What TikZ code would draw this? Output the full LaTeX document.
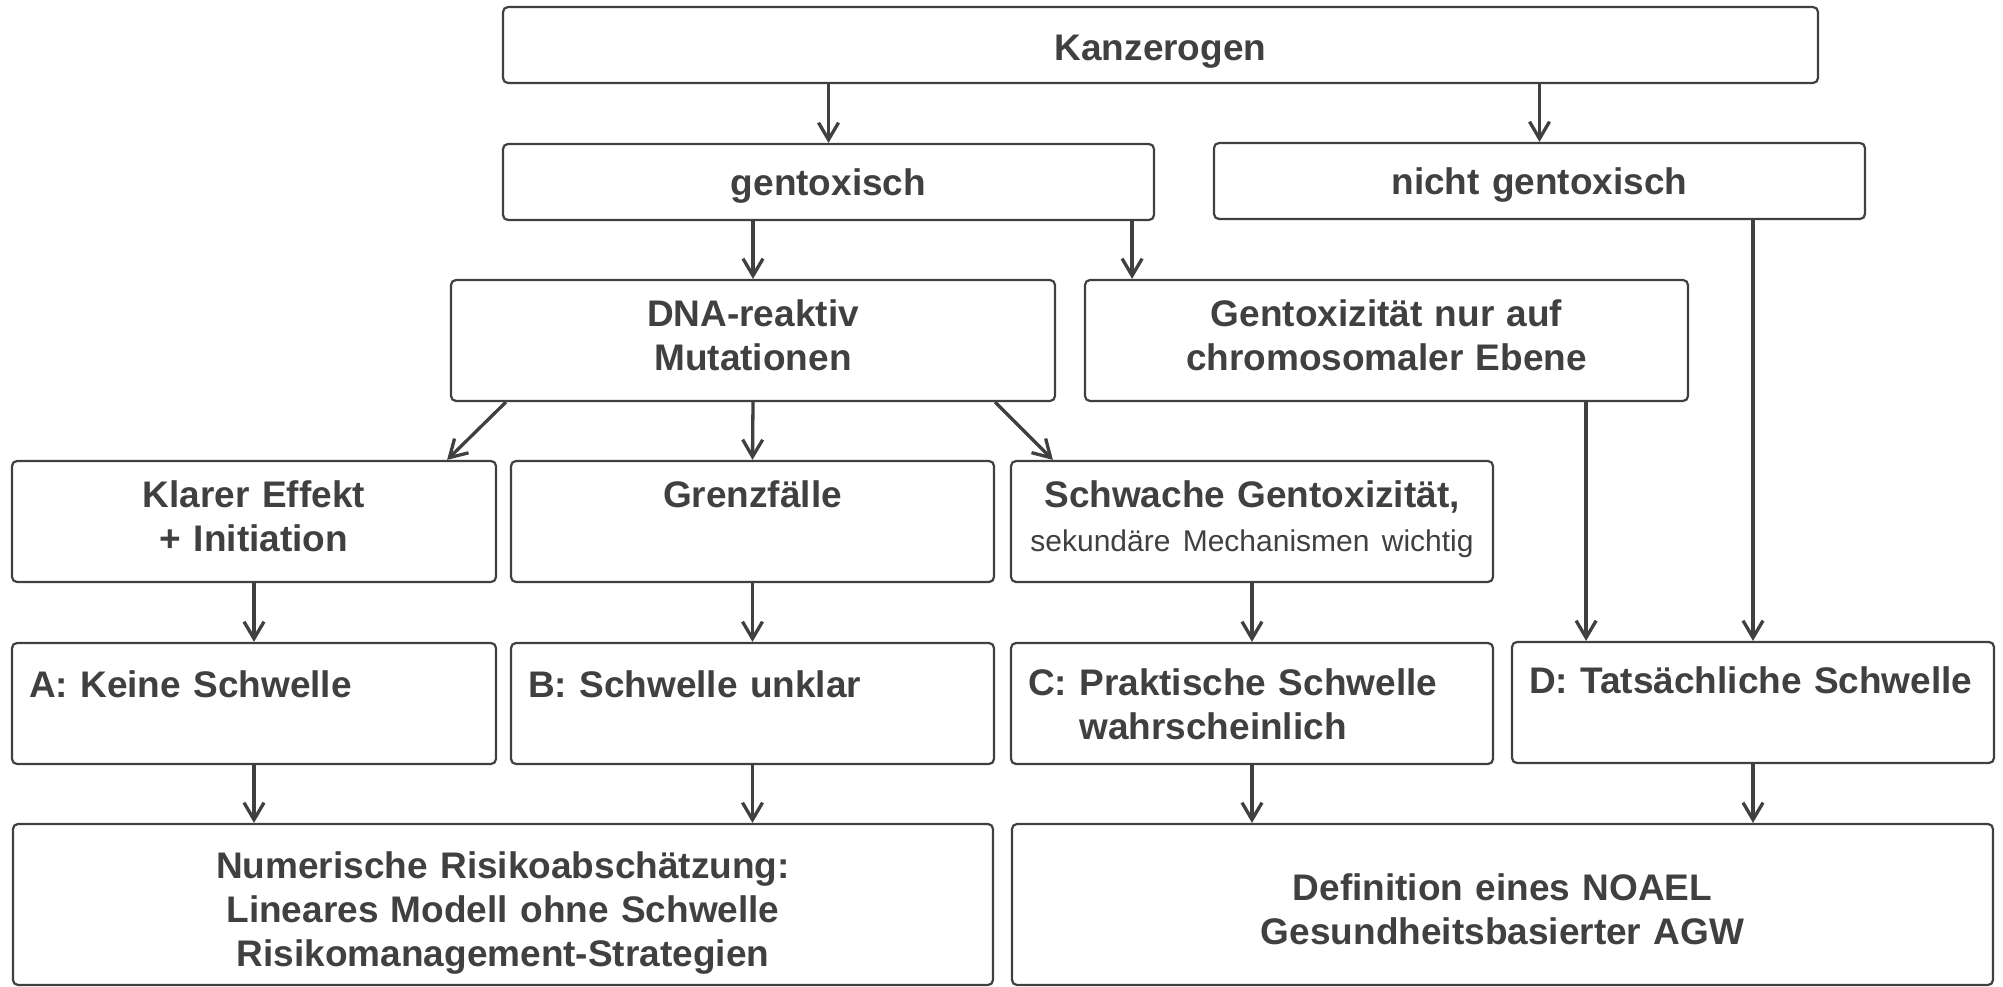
\documentclass[tikz,border=0pt]{standalone}
\usepackage{fontspec}
\setmainfont{Liberation Sans}
\usepackage{tikz}
\usepackage{xcolor}
\usetikzlibrary{arrows.meta}
\definecolor{inkgray}{HTML}{404040}

\begin{document}
\begin{tikzpicture}[x=1pt, y=-1pt,
    box/.style={draw=inkgray, line width=2.2pt, rounded corners=5pt, inner xsep=17pt, inner ysep=0pt,
      align=center, text=inkgray, font=\bfseries\fontsize{37}{44}\selectfont},
    leftbox/.style={box, align=left},
    flow/.style={draw=inkgray, line width=3.3pt, -{Straight Barb[length=17pt, width=20pt]}}]
    \useasboundingbox (0,0) rectangle (2003,987);

    % Carcinogen and first split
    \node[box, text width=1281pt, text height=54pt, text depth=22pt] (kanz) at (1160.5,45) {Kanzerogen};
    \node[box, text width=617pt, text height=52pt, text depth=24pt] (gent) at (828.5,182) {gentoxisch};
    \node[box, text width=617pt, text height=52pt, text depth=24pt] (nicht) at (1539.5,181) {nicht gentoxisch};

    % Mechanism
    \node[box, text width=570pt, text height=46pt, text depth=75pt] (dna) at (753,340.5) {DNA-reaktiv\\Mutationen};
    \node[box, text width=569pt, text height=46pt, text depth=75pt] (chrom) at (1386.5,340.5) {Gentoxizität nur auf\\chromosomaler Ebene};

    % Strength of effect
    \node[box, text width=450pt, text height=46pt, text depth=75pt] (klar) at (254,521.5) {Klarer Effekt\\+ Initiation};
    \node[box, text width=449pt, text height=46pt, text depth=75pt] (grenz) at (752.5,521.5) {Grenzfälle};
    \node[box, text width=448pt, text height=46pt, text depth=75pt] (schwach) at (1252,521.5)
        {Schwache Gentoxizität,\\{\mdseries\fontsize{30}{45}\selectfont sekundäre Mechanismen wichtig}};

    % Threshold classes
    \node[leftbox, text width=450pt, text height=54pt, text depth=67pt] (A) at (254,703.5) {A: Keine Schwelle};
    \node[leftbox, text width=449pt, text height=54pt, text depth=67pt] (B) at (752.5,703.5) {B: Schwelle unklar};
    \node[leftbox, text width=448pt, text height=52pt, text depth=69pt] (C) at (1252,703.5)
        {C: Praktische Schwelle\\\hphantom{C: }wahrscheinlich};
    \node[leftbox, text width=448pt, text height=51pt, text depth=70pt] (D) at (1753,702.5) {D: Tatsächliche Schwelle};

    % Consequences
    \node[box, text width=946pt, text height=54pt, text depth=107pt] (num) at (503,904.5)
        {Numerische Risikoabschätzung:\\Lineares Modell ohne Schwelle\\Risikomanagement-Strategien};
    \node[box, text width=947pt, text height=76pt, text depth=85pt] (def) at (1502.5,904.5)
        {Definition eines NOAEL\\Gesundheitsbasierter AGW};

    % Connectors
    \coordinate (gsplit) at ([xshift=-23pt]gent.south east);
    \coordinate (csplit) at ([xshift=-103pt]chrom.south east);

    \draw[flow] (kanz.south -| gent.north) -- (gent.north);
    \draw[flow] (kanz.south -| nicht.north) -- (nicht.north);
    \draw[flow] (gent.south -| dna.north) -- (dna.north);
    \draw[flow] (gsplit) -- (gsplit |- chrom.north);

    \draw[flow] ([xshift=56pt]dna.south west) -- ([xshift=-50pt]klar.north east);
    \draw[flow] (dna.south) -- (grenz.north);
    \draw[flow] ([xshift=-61pt]dna.south east) -- ([xshift=43pt]schwach.north west);
    \draw[flow] (csplit) -- (csplit |- D.north);
    \draw[flow] (nicht.south -| D.north) -- (D.north);

    \draw[flow] (klar.south) -- (A.north);
    \draw[flow] (grenz.south) -- (B.north);
    \draw[flow] (schwach.south) -- (C.north);

    \draw[flow] (A.south) -- (A.south |- num.north);
    \draw[flow] (B.south) -- (B.south |- num.north);
    \draw[flow] (C.south) -- (C.south |- def.north);
    \draw[flow] (D.south) -- (D.south |- def.north);
\end{tikzpicture}
\end{document}
